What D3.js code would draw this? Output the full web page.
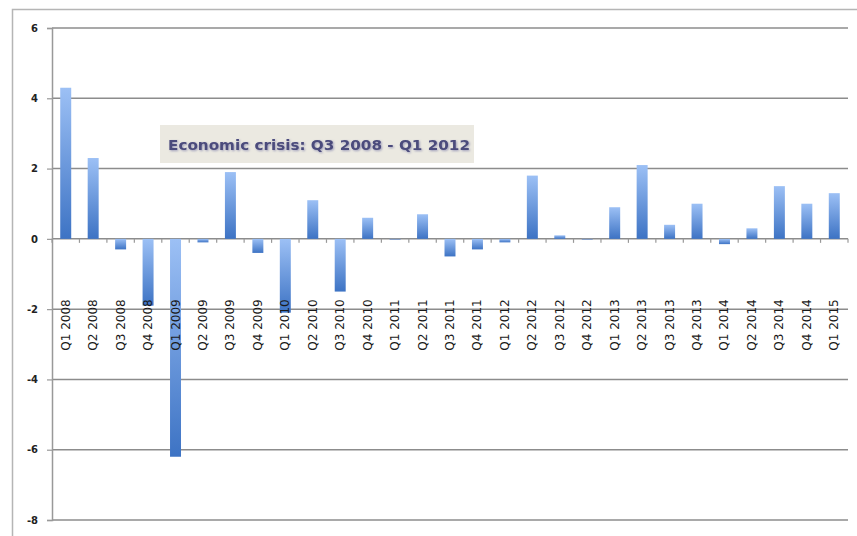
<!DOCTYPE html>
<html>
<head>
<meta charset="utf-8">
<script src="https://cdn.jsdelivr.net/npm/d3@7"></script>
<style>
  html, body { margin: 0; padding: 0; background: #ffffff; }
  svg { display: block; }
</style>
</head>
<body>
<div id="chart"></div>
<script>
// Quarterly change, Q1 2008 – Q1 2015
const quarters = [
  "Q1 2008", "Q2 2008", "Q3 2008", "Q4 2008",
  "Q1 2009", "Q2 2009", "Q3 2009", "Q4 2009",
  "Q1 2010", "Q2 2010", "Q3 2010", "Q4 2010",
  "Q1 2011", "Q2 2011", "Q3 2011", "Q4 2011",
  "Q1 2012", "Q2 2012", "Q3 2012", "Q4 2012",
  "Q1 2013", "Q2 2013", "Q3 2013", "Q4 2013",
  "Q1 2014", "Q2 2014", "Q3 2014", "Q4 2014",
  "Q1 2015"
];
const values = [
  4.3, 2.3, -0.3, -1.9,
  -6.2, -0.1, 1.9, -0.4,
  -2.1, 1.1, -1.5, 0.6,
  0.0, 0.7, -0.5, -0.3,
  -0.1, 1.8, 0.1, 0.0,
  0.9, 2.1, 0.4, 1.0,
  -0.15, 0.3, 1.5, 1.0,
  1.3
];
const yTicks = [-8, -6, -4, -2, 0, 2, 4, 6];
const annotation = "Economic crisis: Q3 2008 - Q1 2012";

const W = 857, H = 536;
const plot = { left: 52, right: 848, top: 28, bottom: 520 };

const svg = d3.select("#chart").append("svg")
  .attr("width", W).attr("height", H);

const defs = svg.append("defs");
const grad = defs.append("linearGradient")
  .attr("id", "barFill")
  .attr("x1", 0).attr("y1", 0).attr("x2", 0).attr("y2", 1);
grad.append("stop").attr("offset", "0%").attr("stop-color", "#9cc0f5");
grad.append("stop").attr("offset", "100%").attr("stop-color", "#3d73c4");

// outer chart frame
svg.append("rect")
  .attr("x", 12.5).attr("y", 9.5)
  .attr("width", W + 10).attr("height", H + 10)
  .attr("fill", "none")
  .attr("stroke", "#b5b5b5")
  .attr("stroke-width", 1.5);

const x = d3.scaleBand()
  .domain(quarters)
  .range([plot.left, plot.right])
  .paddingInner(0.6)
  .paddingOuter(0.3);

const y = d3.scaleLinear()
  .domain([-8, 6])
  .range([plot.bottom, plot.top]);

// horizontal gridlines
svg.append("g")
  .selectAll("line")
  .data(yTicks)
  .join("line")
  .attr("x1", plot.left).attr("x2", plot.right)
  .attr("y1", d => y(d)).attr("y2", d => y(d))
  .attr("stroke", "#8c8c8c")
  .attr("stroke-width", 1.5);

// y axis (hyphen-minus for negative labels)
const yAxis = d3.axisLeft(y)
  .tickValues(yTicks)
  .tickSize(5)
  .tickPadding(9)
  .tickFormat(d => String(d));
const gy = svg.append("g")
  .attr("transform", `translate(${plot.left},0)`)
  .call(yAxis);
gy.select(".domain").attr("stroke", "#999999").attr("stroke-width", 1.5);
gy.selectAll(".tick line").attr("stroke", "#999999").attr("stroke-width", 1.2);
gy.selectAll(".tick text")
  .attr("font-family", "DejaVu Sans, sans-serif")
  .attr("font-size", 10)
  .attr("font-weight", "bold")
  .attr("fill", "#222222");

// bars
svg.append("g")
  .selectAll("rect")
  .data(quarters.map((q, i) => ({ q, v: values[i] })))
  .join("rect")
  .attr("x", d => x(d.q))
  .attr("width", x.bandwidth())
  .attr("y", d => y(Math.max(0, d.v)))
  .attr("height", d => Math.max(0.6, Math.abs(y(d.v) - y(0))))
  .attr("fill", "url(#barFill)");

// category axis along zero line with ticks between categories
const boundaries = d3.range(quarters.length + 1)
  .map(i => plot.left + i * (plot.right - plot.left) / quarters.length);
svg.append("g")
  .selectAll("line")
  .data(boundaries)
  .join("line")
  .attr("x1", d => d).attr("x2", d => d)
  .attr("y1", y(0)).attr("y2", y(0) + 4)
  .attr("stroke", "#999999")
  .attr("stroke-width", 1.2);

// rotated category labels
svg.append("g")
  .selectAll("text")
  .data(quarters)
  .join("text")
  .attr("transform", d => `translate(${x(d) + x.bandwidth() / 2 + 4},325) rotate(-90)`)
  .attr("text-anchor", "middle")
  .attr("font-family", "DejaVu Sans, sans-serif")
  .attr("font-size", 12)
  .attr("fill", "#1a1a1a")
  .text(d => d);

// annotation box
const note = svg.append("g");
note.append("rect")
  .attr("x", 160).attr("y", 125)
  .attr("width", 314).attr("height", 38)
  .attr("fill", "#ebe9e1");
const shadow = defs.append("filter").attr("id", "txtShadow")
  .attr("x", "-5%").attr("y", "-30%").attr("width", "110%").attr("height", "160%");
shadow.append("feDropShadow")
  .attr("dx", 1).attr("dy", 1).attr("stdDeviation", 0.8)
  .attr("flood-color", "#7a7aa8").attr("flood-opacity", 0.7);
note.append("text")
  .attr("x", 168).attr("y", 150)
  .attr("font-family", "DejaVu Sans, sans-serif")
  .attr("font-size", 14)
  .attr("font-weight", "bold")
  .attr("fill", "#4b4b7c")
  .attr("textLength", 302)
  .attr("lengthAdjust", "spacingAndGlyphs")
  .attr("filter", "url(#txtShadow)")
  .text(annotation);
</script>
</body>
</html>
